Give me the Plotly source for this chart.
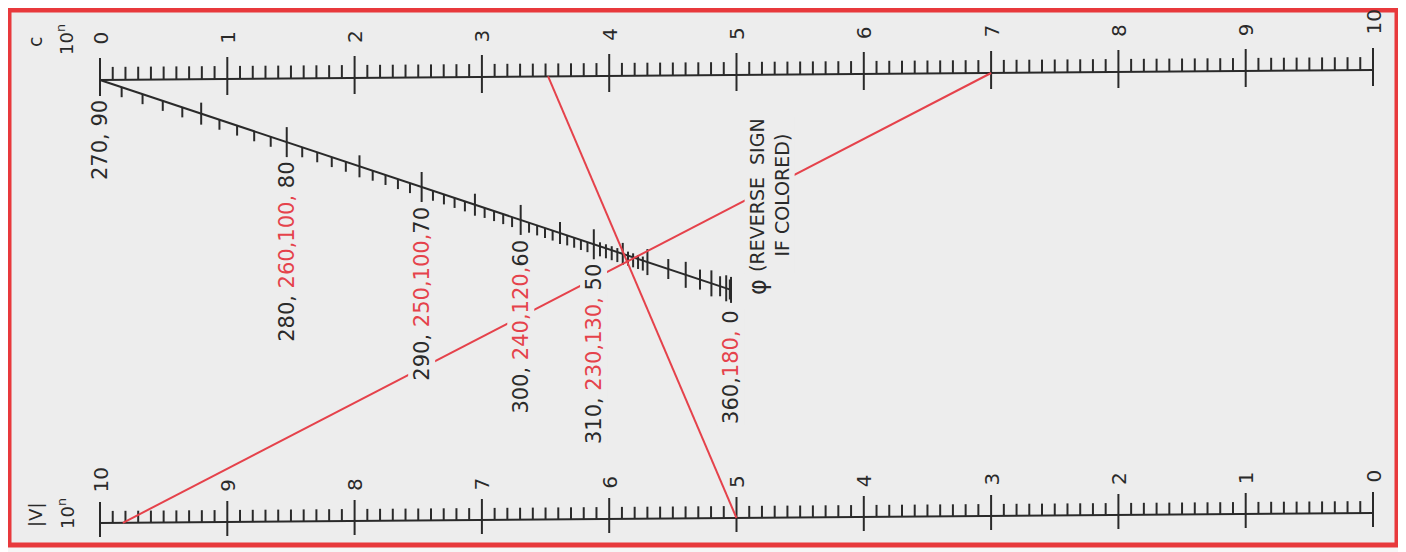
import math
import plotly.graph_objects as go

# ---- scale values ----
c_major = [0, 1, 2, 3, 4, 5, 6, 7, 8, 9, 10]          # top scale (c)
v_major = [10, 9, 8, 7, 6, 5, 4, 3, 2, 1, 0]          # bottom scale (|V|), left to right
phi_major = [80, 70, 60, 50, 40, 30, 20, 10, 0]
phi_mid = [85, 75, 65, 55, 45, 35, 25, 15, 5]
phi_minor = [p for p in range(41, 90) if p % 5 != 0]
phi_labelled = [90, 80, 70, 60, 50, 0]
phi_pre = ["270,", "280, ", "290, ", "300, ", "310, ", "360,"]
phi_red = ["", "260,100,", "250,100,", "240,120,", "230,130,", "180,"]
phi_post = [" 90", " 80", "70", "60", " 50", " 0"]

# example readings drawn in red: |V| on the bottom scale, c on the top scale
ex_v = [9.82, 5.0]
ex_c = [7.0, 3.52]

# ---- sheet geometry (x in units of c, v = 0 bottom scale, 1 top scale) ----
OFF = 8                    # page body margin
W, H = 1406 - OFF, 552 - OFF
PX_C = 127.3
PX_H = 443.0
LEFT = 100 - OFF
TOP = 80 - OFF
TILT = 1.0 / PX_H          # scan is rotated by about half a degree
PHI_END = (4.957, 0.515)   # where phi = 0 sits

INK = "#2a2a2a"
RED = "#e5424b"
PAPER = "#ededed"
FONT = "DejaVu Sans"


def pt(x, v):
    return x, v + TILT * x


def phi_pos(phi):
    cs = math.cos(math.radians(phi))
    t = 2 * cs / (1 + cs)
    return pt(t * PHI_END[0], 1 + t * (PHI_END[1] - 1))


def add_tick(xs, ys, x, y, up, down):
    xs += [x, x, None]
    ys += [y + up / PX_H, y - down / PX_H, None]


fig = go.Figure()

# scale lines
lx, ly = [], []
for a, b in [((0, 1), (10, 1)), ((0, 0), (10, 0)), ((0, 1), PHI_END)]:
    p0, p1 = pt(*a), pt(*b)
    lx += [p0[0], p1[0], None]
    ly += [p0[1], p1[1], None]

# ticks on c and |V| scales
for i in range(101):
    val = i / 10
    x, y = pt(val, 1)
    if i % 10 == 0:
        add_tick(lx, ly, x, y, 22, 16)
    else:
        add_tick(lx, ly, x, y, 13, 0)
    x, y = pt(val, 0)
    if i % 10 == 0:
        add_tick(lx, ly, x, y, 21, 14)
    else:
        add_tick(lx, ly, x, y, 12, 0)

# ticks on phi scale
for p in phi_major:
    x, y = phi_pos(p)
    h = 15 if p >= 50 else 13
    add_tick(lx, ly, x, y, h, h)
for p in phi_mid:
    x, y = phi_pos(p)
    h = 11 if p >= 45 else 10
    add_tick(lx, ly, x, y, h, h)
for p in phi_minor:
    x, y = phi_pos(p)
    add_tick(lx, ly, x, y, 0 if p > 50 else 4, 10)

fig.add_trace(go.Scatter(x=lx, y=ly, mode="lines", line=dict(color=INK, width=2),
                         hoverinfo="skip", showlegend=False))

# red example lines
for v, c in zip(ex_v, ex_c):
    p0, p1 = pt(10 - v, 0), pt(c, 1)
    fig.add_trace(go.Scatter(x=[p0[0], p1[0]], y=[p0[1], p1[1]], mode="lines",
                             line=dict(color=RED, width=2), hoverinfo="skip",
                             showlegend=False))

ann = []
for c in c_major:
    x, y = pt(c, 1)
    ann.append(dict(x=x, y=y, text=str(c), yshift=33, yanchor="bottom"))
for i, v in enumerate(v_major):
    x, y = pt(i, 0)
    ann.append(dict(x=x, y=y, text=str(v), yshift=28, yanchor="bottom"))
for p, a, r, b in zip(phi_labelled, phi_pre, phi_red, phi_post):
    x, y = phi_pos(p)
    txt = a + (f'<span style="color:{RED}">{r}</span>' if r else "") + b
    ann.append(dict(x=x, y=y, text=txt, yshift=-18, yanchor="top", bgcolor=PAPER,
                    font=dict(size=21)))

x0, y0 = pt(0, 1)
ann.append(dict(x=x0, y=y0, text="c", xshift=-65, yshift=38, font=dict(size=19)))
ann.append(dict(x=x0, y=y0, text="10<sup>n</sup>", xshift=-35, yshift=40, font=dict(size=18)))
x0, y0 = pt(0, 0)
ann.append(dict(x=x0, y=y0, text="|V|", xshift=-65, yshift=8, font=dict(size=18)))
ann.append(dict(x=x0, y=y0, text="10<sup>n</sup>", xshift=-34, yshift=9, font=dict(size=18)))

xe, ye = pt(*PHI_END)
ann.append(dict(x=xe, y=ye, text="\u03c6", xshift=27, yshift=3, font=dict(size=24)))
ann.append(dict(x=xe, y=ye, text="(REVERSE  SIGN<br>IF COLORED)", xshift=39, yshift=95,
                bgcolor=PAPER, font=dict(size=19)))

for a in ann:
    a.setdefault("font", dict(size=20))
    a["font"] = dict(family=FONT, color=INK, **a["font"])
    a.update(showarrow=False, textangle=-90, xanchor="center")
    a.setdefault("yanchor", "middle")
    fig.add_annotation(**a)

fig.add_shape(type="rect", xref="paper", yref="paper", x0=1 / W, x1=(1397 - OFF) / W,
              y0=1 - (545 - OFF) / H, y1=1 - 2 / H, line=dict(color="#e8393c", width=5),
              fillcolor=PAPER, layer="below")

fig.update_layout(
    width=W, height=H,
    margin=dict(l=0, r=0, t=0, b=0),
    paper_bgcolor="#f6f6f6", plot_bgcolor="#f6f6f6",
    xaxis=dict(range=[-LEFT / PX_C, (W - LEFT) / PX_C], visible=False, fixedrange=True),
    yaxis=dict(range=[1 - (H - TOP) / PX_H, 1 + TOP / PX_H], visible=False, fixedrange=True),
)

fig.write_html("out.html")
